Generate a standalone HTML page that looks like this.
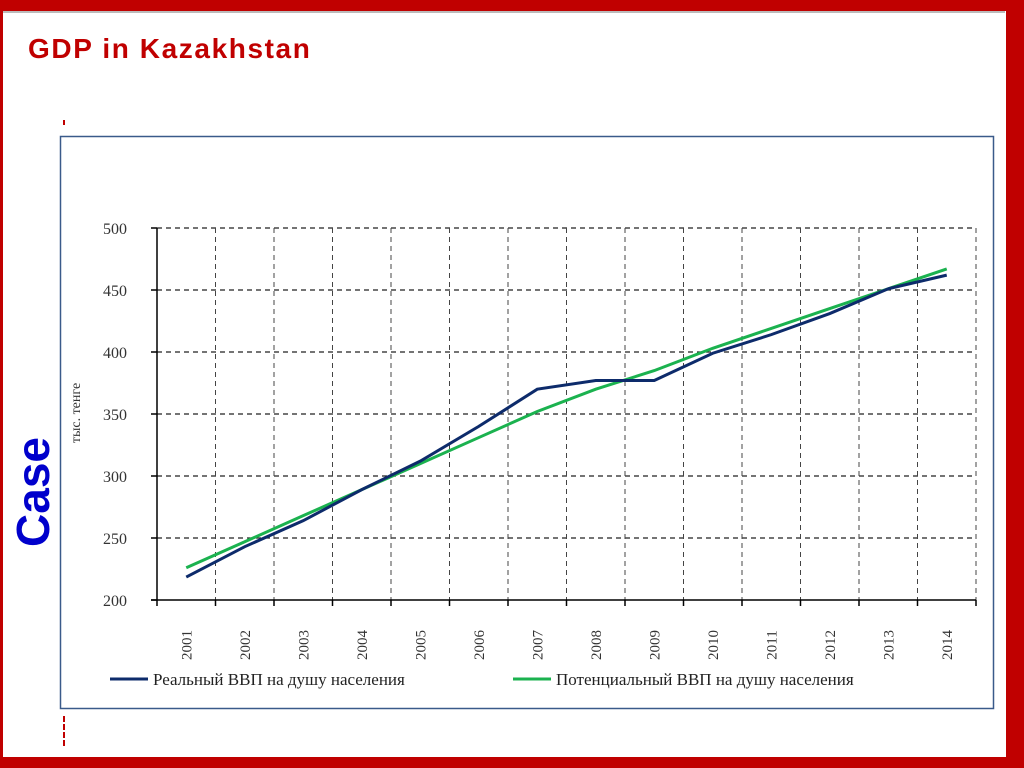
<!DOCTYPE html>
<html><head><meta charset="utf-8"><style>
body{margin:0;width:1024px;height:768px;overflow:hidden;background:#fff;position:relative;font-family:"Liberation Sans",sans-serif}
.abs{position:absolute}
</style></head><body>
<div class="abs" style="left:0;top:0;width:1024px;height:11px;background:#c00000"></div>
<div class="abs" style="left:0;top:11px;width:1005px;height:2px;background:#bbb"></div>
<div class="abs" style="left:0;top:0;width:3px;height:768px;background:#c00000"></div>
<div class="abs" style="left:1006px;top:0;width:18px;height:768px;background:#c00000"></div>
<div class="abs" style="left:0;top:757px;width:1024px;height:11px;background:#c00000"></div>
<div class="abs" style="left:28px;top:33px;font-size:28px;letter-spacing:1.6px;font-weight:bold;color:#c00000">GDP in Kazakhstan</div>
<div class="abs" style="left:33px;top:492px;transform:translate(-50%,-50%) rotate(-90deg);font-size:46px;font-weight:bold;color:#0000cc;white-space:nowrap">Case</div>
<div class="abs" style="left:63px;top:120px;width:2px;height:5px;background:#c00000"></div>
<div class="abs" style="left:63px;top:716px;width:0;height:30px;border-left:2px dashed #c00000"></div>
<svg class="abs" style="left:0;top:0" width="1024" height="768">
<rect x="60.5" y="136.5" width="933" height="572" fill="#fff" stroke="#3a5a8a" stroke-width="1.5"/>
<g id="grid"></g><g id="axes"></g><g id="series"></g>
<text x="80" y="413" transform="rotate(-90 80 413)" text-anchor="middle" font-family="Liberation Serif,serif" font-size="14" fill="#333">тыс. тенге</text>
<line x1="110" y1="679" x2="148" y2="679" stroke="#0d2b6b" stroke-width="3"/>
<text x="153" y="685" font-family="Liberation Serif,serif" font-size="17" fill="#222">Реальный ВВП на душу населения</text>
<line x1="513" y1="679" x2="551" y2="679" stroke="#1bb24f" stroke-width="3"/>
<text x="556" y="685" font-family="Liberation Serif,serif" font-size="17" fill="#222">Потенциальный ВВП на душу населения</text>
</svg>
<script>
const years=["2001","2002","2003","2004","2005","2006","2007","2008","2009","2010","2011","2012","2013","2014"];
const realGdp=[218.5,243,264,289,312,340,370,377,377,399,414,431,451,462];
const potentialGdp=[226,247,268,289,310,331,352,370,385,403,419,435,451,467];
const yTicks=[200,250,300,350,400,450,500];
const NS="http://www.w3.org/2000/svg";
const x0=157,x1=976,yTop=228,yBot=600,yMin=200,yMax=500;
const step=(x1-x0)/years.length;
const xc=i=>x0+step*(i+0.5);
const ys=v=>yBot-(v-yMin)/(yMax-yMin)*(yBot-yTop);
function mk(tag,attrs,parent){const e=document.createElementNS(NS,tag);for(const k in attrs)e.setAttribute(k,attrs[k]);parent.appendChild(e);return e;}
const grid=document.getElementById('grid'),axes=document.getElementById('axes'),series=document.getElementById('series');
yTicks.forEach(t=>{
  const y=ys(t);
  if(t>yMin){const l=mk('line',{x1:x0,x2:x1,y1:y,y2:y,stroke:'#222','stroke-width':1.2,'stroke-dasharray':'5,4'},grid);
  
  }
  const tk=mk('line',{x1:x0-6,x2:x0,y1:y,y2:y,stroke:'#000','stroke-width':1.5},axes);
  
  
  const tx=mk('text',{x:x0-30,y:y+6,'text-anchor':'end','font-family':'Liberation Serif,serif','font-size':16,fill:'#333'},axes);
  tx.textContent=t;
  
  
});
for(let i=0;i<=years.length;i++){
  const x=x0+step*i;
  if(i>0){const g=mk('line',{x1:x,x2:x,y1:yTop,y2:yBot,stroke:'#444','stroke-width':1,'stroke-dasharray':'5,4'},grid);
  
  }
  const tk=mk('line',{x1:x,x2:x,y1:yBot,y2:yBot+6,stroke:'#000','stroke-width':1.5},axes);
  
  
}
years.forEach((yr,i)=>{
  const x=xc(i)+5,y=yBot+45;
  const tx=mk('text',{x:x,y:y,transform:`rotate(-90 ${x} ${y})`,'text-anchor':'middle','font-family':'Liberation Serif,serif','font-size':15,fill:'#333'},axes);
  tx.textContent=yr;
  
  
});
const ay=mk('line',{x1:x0,x2:x0,y1:yTop,y2:yBot,stroke:'#000','stroke-width':1.5},axes);


const ax=mk('line',{x1:x0-6,x2:x1,y1:yBot,y2:yBot,stroke:'#000','stroke-width':1.5},axes);


const pPot=mk('polyline',{points:potentialGdp.map((v,i)=>xc(i)+','+ys(v)).join(' '),fill:'none',stroke:'#1bb24f','stroke-width':3},series);


const pReal=mk('polyline',{points:realGdp.map((v,i)=>xc(i)+','+ys(v)).join(' '),fill:'none',stroke:'#0d2b6b','stroke-width':3},series);


</script>
</body></html>
